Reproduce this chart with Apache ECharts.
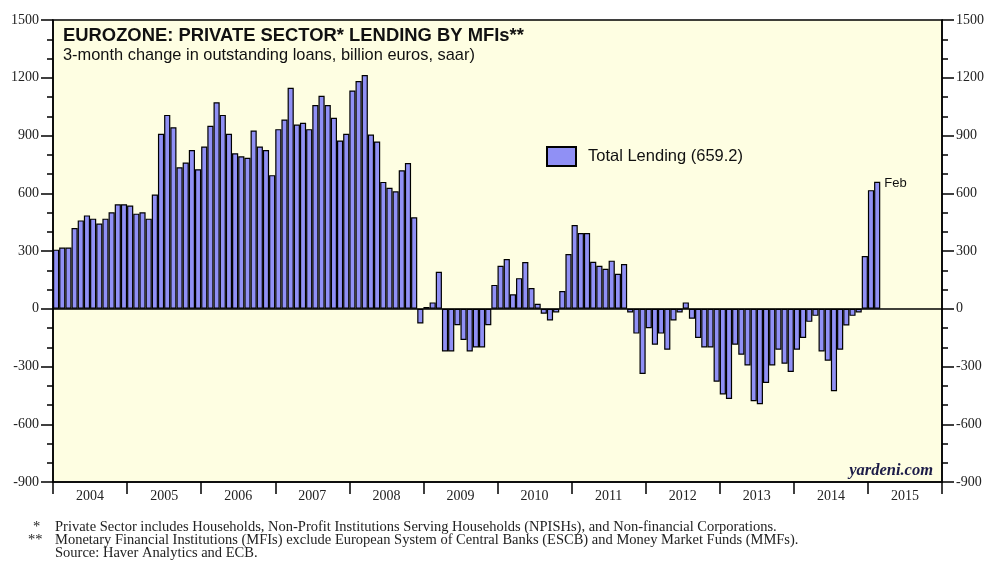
<!DOCTYPE html>
<html>
<head>
<meta charset="utf-8">
<title>Eurozone: Private Sector Lending by MFIs</title>
<script src="https://cdn.jsdelivr.net/npm/echarts@6/dist/echarts.min.js"></script>
<style>
  html, body { margin: 0; padding: 0; background: #fff; overflow: hidden; }
  #main { width: 984px; height: 565px; }
</style>
</head>
<body>
<div id="main"></div>
<script>
// 3-month change in outstanding loans, billion euros, saar (monthly)
var years = ['2004', '2005', '2006', '2007', '2008', '2009', '2010', '2011', '2012', '2013', '2014', '2015'];
var lending2004 = [307, 318, 318, 419, 459, 485, 468, 443, 468, 501, 543, 543];
var lending2005 = [536, 494, 501, 468, 593, 909, 1007, 943, 735, 760, 825, 725];
var lending2006 = [843, 950, 1073, 1007, 909, 808, 792, 784, 926, 843, 825, 694];
var lending2007 = [933, 983, 1148, 957, 966, 933, 1058, 1106, 1058, 992, 874, 909];
var lending2008 = [1134, 1183, 1214, 905, 869, 659, 628, 610, 719, 757, 475, -77];
var lending2009 = [9, 33, 192, -222, -222, -86, -162, -222, -201, -201, -86, 124];
var lending2010 = [223, 258, 75, 159, 243, 108, 26, -26, -61, -19, 92, 284];
var lending2011 = [435, 393, 393, 244, 223, 208, 250, 182, 232, -19, -129, -339];
var lending2012 = [-101, -187, -129, -213, -61, -19, 33, -52, -152, -201, -201, -379];
var lending2013 = [-445, -469, -187, -239, -295, -480, -496, -386, -295, -213, -286, -328];
var lending2014 = [-213, -152, -68, -37, -222, -270, -428, -213, -87, -37, -19, 274];
var lending2015 = [616, 659.2];
var lastLabel = 'Feb';
var seriesName = 'Total Lending (659.2)';

var lending = [].concat(lending2004, lending2005, lending2006, lending2007, lending2008,
  lending2009, lending2010, lending2011, lending2012, lending2013, lending2014, lending2015);

// monthly categories for the whole span of the year axis
var months = [];
years.forEach(function (y) {
  for (var m = 1; m <= 12; m++) {
    months.push(y + '-' + (m < 10 ? '0' + m : m));
  }
});

var barData = lending.map(function (v, i) {
  if (i === lending.length - 1) {
    return {
      value: v,
      label: {
        show: true,
        formatter: lastLabel,
        position: ['100%', 0],
        offset: [4, 2],
        verticalAlign: 'middle',
        fontFamily: 'Liberation Sans',
        fontSize: 13,
        color: '#111'
      }
    };
  }
  return v;
});

var serif = 'Liberation Serif';
var sans = 'Liberation Sans';

var valueAxis = function (pos) {
  return {
    type: 'value',
    position: pos,
    min: -900,
    max: 1500,
    interval: 300,
    axisLine: { show: true, lineStyle: { color: '#000', width: 1.5 } },
    axisTick: { show: true, length: 12, lineStyle: { color: '#000', width: 1.5 } },
    minorTick: { show: true, splitNumber: 3, length: 6, lineStyle: { color: '#000', width: 1.5 } },
    splitLine: { show: false },
    axisLabel: {
      margin: 14, fontFamily: serif, fontSize: 14, color: '#222',
      formatter: function (v) { return String(v); }
    }
  };
};

var chart = echarts.init(document.getElementById('main'));

var option = {
  animation: false,
  backgroundColor: '#fff',
  title: [{
    text: 'EUROZONE: PRIVATE SECTOR* LENDING BY MFIs**',
    left: 63,
    top: 27,
    padding: 0,
    textStyle: { fontFamily: sans, fontSize: 18.4, fontWeight: 'bold', color: '#111' }
  }, {
    text: '3-month change in outstanding loans, billion euros, saar)',
    left: 63,
    top: 47,
    padding: 0,
    textStyle: { fontFamily: sans, fontSize: 16.4, fontWeight: 'normal', color: '#111' }
  }],
  legend: {
    left: 546,
    top: 146,
    padding: 0,
    icon: 'rect',
    itemWidth: 29,
    itemHeight: 19,
    selectedMode: false,
    textStyle: { fontFamily: sans, fontSize: 16.5, color: '#111', padding: [0, 0, 14, 7] },
    data: [seriesName]
  },
  grid: {
    left: 53,
    right: 42,
    top: 20,
    bottom: 83,
    outerBoundsMode: 'none',
    show: true,
    backgroundColor: '#fefee2',
    borderColor: '#000',
    borderWidth: 1.5
  },
  xAxis: [{
    type: 'category',
    data: months,
    show: false
  }, {
    type: 'category',
    data: years,
    position: 'bottom',
    axisLine: { show: true, onZero: false, lineStyle: { color: '#000', width: 1.5 } },
    axisTick: { show: true, length: 12, lineStyle: { color: '#000', width: 1.5 } },
    axisLabel: { margin: 7, fontFamily: serif, fontSize: 14, color: '#222' },
    splitLine: { show: false }
  }],
  yAxis: [valueAxis('left'), valueAxis('right')],
  series: [{
    name: seriesName,
    type: 'bar',
    xAxisIndex: 0,
    yAxisIndex: 0,
    barCategoryGap: '0%',
    data: barData,
    itemStyle: { color: '#9090f5', borderColor: '#000', borderWidth: 1.2 },
    markLine: {
      silent: true,
      symbol: 'none',
      label: { show: false },
      lineStyle: { color: '#000', width: 1.5, type: 'solid' },
      data: [{ yAxis: 0 }]
    }
  }],
  graphic: [{
    type: 'text',
    right: 51,
    top: 462,
    style: { text: 'yardeni.com', font: 'italic bold 16.5px "Liberation Serif"', fill: '#1c1c48' }
  }, {
    type: 'text', left: 33, top: 520,
    style: { text: '*', font: '14.5px "Liberation Serif"', fill: '#222' }
  }, {
    type: 'text', left: 28, top: 533,
    style: { text: '**', font: '14.5px "Liberation Serif"', fill: '#222' }
  }, {
    type: 'text', left: 55, top: 520,
    style: { text: 'Private Sector includes Households, Non-Profit Institutions Serving Households (NPISHs), and Non-financial Corporations.', font: '14.5px "Liberation Serif"', fill: '#222' }
  }, {
    type: 'text', left: 55, top: 533,
    style: { text: 'Monetary Financial Institutions (MFIs) exclude European System of Central Banks (ESCB) and Money Market Funds (MMFs).', font: '14.5px "Liberation Serif"', fill: '#222' }
  }, {
    type: 'text', left: 55, top: 546,
    style: { text: 'Source: Haver Analytics and ECB.', font: '14.5px "Liberation Serif"', fill: '#222' }
  }]
};

chart.setOption(option);
</script>
</body>
</html>
